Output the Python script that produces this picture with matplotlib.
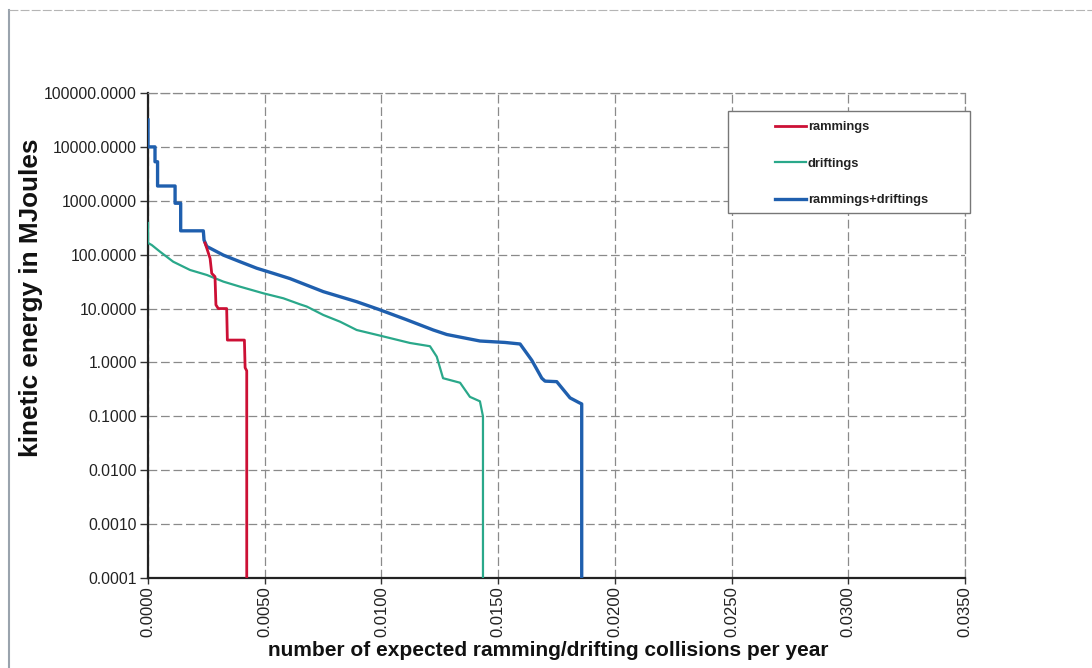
import matplotlib
matplotlib.use("Agg")
import matplotlib.pyplot as plt
from matplotlib.lines import Line2D
from matplotlib.patches import Rectangle

# ---- data ----
ram_x = [0.00244, 0.00252, 0.00266, 0.00273, 0.00287, 0.00291, 0.00301, 0.00337,
         0.00340, 0.00413, 0.00416, 0.00423, 0.00423]
ram_y = [165, 131, 85, 45, 39, 11.7, 10, 10, 2.6, 2.6, 0.8, 0.7, 0.0001]

drift_x = [0.0, 0.0, 0.00016, 0.00051, 0.00108, 0.00180, 0.00252, 0.00323, 0.00394,
           0.00494, 0.00580, 0.00651, 0.00680, 0.00751, 0.00823, 0.00894, 0.00987,
           0.01122, 0.01208, 0.01237, 0.01264, 0.01337, 0.01379, 0.01422, 0.01435, 0.01435]
drift_y = [387, 165, 151, 114, 74, 52, 42, 31.6, 25.5, 19.2, 15.5, 12, 10.9, 7.6, 5.7,
           4.0, 3.2, 2.3, 2.0, 1.28, 0.51, 0.42, 0.23, 0.19, 0.1, 0.0001]

both_x = [0.0, 0.0, 0.00030, 0.00030, 0.00041, 0.00041, 0.00116, 0.00116, 0.00140, 0.00140,
          0.00237, 0.00240, 0.00252, 0.00323, 0.00394, 0.00466, 0.00537, 0.00608, 0.00751,
          0.00894, 0.00987, 0.01108, 0.01222, 0.01280, 0.01422, 0.01529, 0.01594, 0.01644,
          0.01687, 0.01701, 0.01751, 0.01808, 0.01846, 0.01858, 0.01858]
both_y = [31600, 10000, 10000, 5300, 5300, 1880, 1880, 900, 900, 277, 277, 187, 142, 98,
          74, 56, 45, 36, 20.6, 13.4, 9.7, 6.2, 4.0, 3.3, 2.5, 2.35, 2.2, 1.1, 0.51, 0.45,
          0.44, 0.22, 0.18, 0.17, 0.0001]

series_labels = ["rammings", "driftings", "rammings+driftings"]
series_colors = ["#cc1035", "#2aa88a", "#1f5fae"]

x_ticks = [0.0, 0.005, 0.010, 0.015, 0.020, 0.025, 0.030, 0.035]
y_ticks = [0.0001, 0.001, 0.01, 0.1, 1, 10, 100, 1000, 10000, 100000]
x_label = "number of expected ramming/drifting collisions per year"
y_label = "kinetic energy in MJoules"

# ---- figure ----
W, H = 1092, 668
plt.rcParams["font.family"] = ["Liberation Sans", "DejaVu Sans"]
fig = plt.figure(figsize=(W / 100, H / 100), dpi=100)
fig.patch.set_facecolor("white")

L, R, T, B = 148, 965, 93, 578
ax = fig.add_axes([L / W, 1 - B / H, (R - L) / W, (B - T) / H])
ax.set_yscale("log")
ax.set_xlim(0, 0.035)
ax.set_ylim(0.0001, 100000)

ax.plot(ram_x, ram_y, color=series_colors[0], lw=2.0, label=series_labels[0], zorder=4)
ax.plot(drift_x, drift_y, color=series_colors[1], lw=1.6, label=series_labels[1], zorder=3)
ax.plot(both_x, both_y, color=series_colors[2], lw=2.4, label=series_labels[2], zorder=3)

ax.set_xticks(x_ticks)
ax.set_xticklabels([f"{v:.4f}" for v in x_ticks], rotation=90, fontsize=12, color="#222222")
ax.set_yticks(y_ticks)
ax.set_yticklabels([f"{v:.4f}" for v in y_ticks], fontsize=11.3, color="#222222")
ax.yaxis.set_minor_locator(matplotlib.ticker.NullLocator())
ax.tick_params(axis="x", direction="out", length=4, pad=2, width=1, color="#333333")
ax.tick_params(axis="y", direction="out", length=6, pad=2, width=1, color="#333333")

ax.grid(True, which="major", color="#8a8a8a", linestyle=(0, (7, 3)), lw=0.9)
ax.set_axisbelow(True)
for s in ["top", "right"]:
    ax.spines[s].set_color("#8a8a8a")
    ax.spines[s].set_linewidth(0.9)
    ax.spines[s].set_linestyle((0, (7, 3)))
for s in ["left", "bottom"]:
    ax.spines[s].set_color("#222222")
    ax.spines[s].set_linewidth(1.6)

# legend box and entries
lx0, lx1, ly0, ly1 = 728, 970, 111, 213
ax.add_patch(Rectangle(((lx0 - L) / (R - L), (B - ly1) / (B - T)),
                       (lx1 - lx0) / (R - L), (ly1 - ly0) / (B - T),
                       transform=ax.transAxes, facecolor="white", edgecolor="#777777",
                       lw=1.0, clip_on=False, zorder=5))
leg = ax.legend(loc="upper left", bbox_to_anchor=((775 - L) / (R - L), (B - 121) / (B - T)),
                frameon=False, handlelength=2.4, handletextpad=0.15,
                labelspacing=1.9, borderpad=0, borderaxespad=0,
                prop={"weight": "bold", "size": 9.3})
leg.set_zorder(6)
for t in leg.get_texts():
    t.set_color("#222222")

# axis titles
fig.text(548 / W, 1 - 650 / H, x_label, ha="center", va="center", fontsize=15,
         fontweight="bold", color="#111111")
fig.text(31 / W, 1 - 298 / H, y_label, ha="center", va="center", rotation=90,
         fontsize=18.8, fontweight="bold", color="#111111")

# scanned page frame
fig.add_artist(Line2D([9 / W, 9 / W], [1 - 10 / H, 0], color="#9aa3ad", lw=1.5))
fig.add_artist(Line2D([9 / W, 1], [1 - 10 / H, 1 - 10 / H], color="#b5b5b5", lw=0.8,
                      linestyle=(0, (8, 2))))

fig.savefig("out.png", dpi=100, facecolor="white")
